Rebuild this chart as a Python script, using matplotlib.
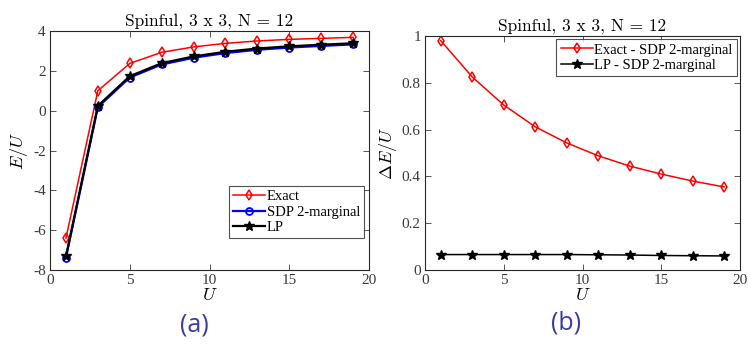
import matplotlib
matplotlib.use("Agg")
import matplotlib.pyplot as plt
import numpy as np

U = [1, 3, 5, 7, 9, 11, 13, 15, 17, 19]
exact = [-6.40, 1.00, 2.37, 2.93, 3.20, 3.38, 3.50, 3.58, 3.63, 3.68]
sdp = [-7.38, 0.175, 1.665, 2.318, 2.657, 2.892, 3.056, 3.17, 3.25, 3.325]
lp = [-7.314, 0.241, 1.731, 2.384, 2.723, 2.958, 3.121, 3.232, 3.311, 3.385]
diff_exact_sdp = [0.980, 0.825, 0.705, 0.612, 0.543, 0.488, 0.444, 0.410, 0.380, 0.355]
diff_lp_sdp = [0.066, 0.066, 0.066, 0.066, 0.066, 0.065, 0.064, 0.062, 0.061, 0.060]

plt.rcParams['font.family'] = ['Liberation Serif', 'DejaVu Serif']
plt.rcParams['mathtext.fontset'] = 'cm'
plt.rcParams['axes.unicode_minus'] = False

fig = plt.figure(figsize=(7.48, 3.44), dpi=100)
W, H = 748, 344
ax1 = fig.add_axes([50 / W, 1 - 270 / H, 319 / W, 239 / H])
ax2 = fig.add_axes([425 / W, 1 - 270 / H, 315 / W, 234 / H])

def style(ax):
    ax.tick_params(direction='in', top=True, right=True, labelsize=11, colors='#3a3a3a',
                   length=4, width=0.6, pad=3)
    for s in ax.spines.values():
        s.set_linewidth(0.8)
        s.set_color('#262626')
    ax.set_xlim(0, 20)
    ax.set_xticks([0, 5, 10, 15, 20])
    ax.set_title('Spinful, 3 x 3, N = 12', fontsize=12.5, pad=4, family='cmr10')
    ax.set_xlabel('$U$', fontsize=13, labelpad=0)

style(ax1)
ax1.plot(U, exact, color='red', marker='d', mfc='none', mec='red', ms=5, lw=1.1, mew=1.1, label='Exact')
ax1.plot(U, sdp, color='blue', marker='o', mfc='none', mec='blue', ms=5, lw=1.6, mew=1.3, label='SDP 2-marginal')
ax1.plot(U, lp, color='black', marker='*', mfc='black', mec='black', ms=7, lw=1.6, label='LP')
ax1.set_ylim(-8, 4)
ax1.set_yticks([-8, -6, -4, -2, 0, 2, 4])
ax1.set_ylabel('$E/U$', fontsize=13, labelpad=2)
leg1 = ax1.legend(loc='lower right', bbox_to_anchor=(0.995, 0.12), fontsize=10.5, frameon=True,
                  fancybox=False, edgecolor='#262626', borderpad=0.3, labelspacing=0.15,
                  handlelength=2.2, handletextpad=0.1, borderaxespad=0.2)
leg1.get_frame().set_linewidth(0.8)

style(ax2)
ax2.plot(U, diff_exact_sdp, color='red', marker='d', mfc='none', mec='red', ms=5, lw=1.1, mew=1.1,
         label='Exact - SDP 2-marginal')
ax2.plot(U, diff_lp_sdp, color='black', marker='*', mfc='black', mec='black', ms=7, lw=1.1,
         label='LP - SDP 2-marginal')
ax2.set_ylim(0, 1)
ax2.set_yticks([0, 0.2, 0.4, 0.6, 0.8, 1])
ax2.set_yticklabels(['0', '0.2', '0.4', '0.6', '0.8', '1'])
ax2.set_ylabel(r'$\Delta E/U$', fontsize=13, labelpad=2)
leg2 = ax2.legend(loc='upper right', fontsize=10.5, frameon=True,
                  fancybox=False, edgecolor='#262626', borderpad=0.3, labelspacing=0.15,
                  handlelength=2.2, handletextpad=0.1, borderaxespad=0.2)
leg2.get_frame().set_linewidth(0.8)

fig.text(194 / W, 1 - 325 / H, '(a)', fontsize=18, color='#3a3aa8', family='Open Sans',
         ha='center', va='center')
fig.text(566 / W, 1 - 323 / H, '(b)', fontsize=18, color='#3a3aa8', family='Open Sans',
         ha='center', va='center')

fig.savefig('out.png', dpi=100)
